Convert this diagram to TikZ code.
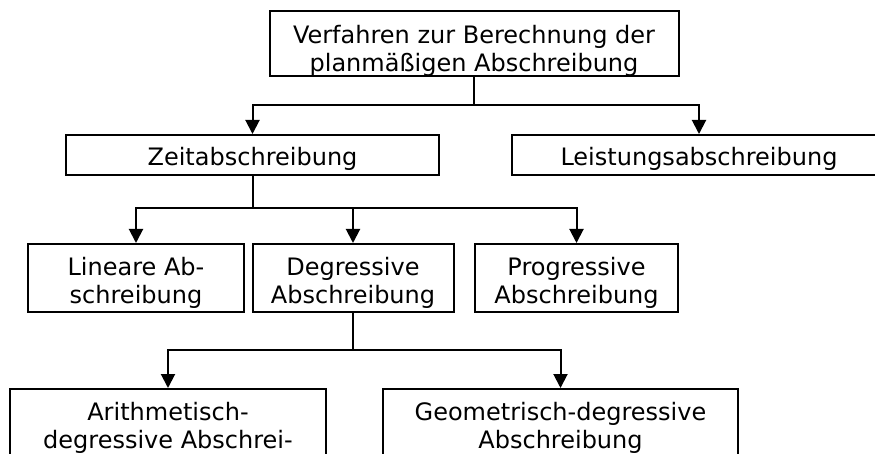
\documentclass[tikz,border=0pt]{standalone}
\usepackage{fontspec}
\setmainfont{DejaVu Sans}
\usetikzlibrary{arrows.meta}

\begin{document}
\begin{tikzpicture}[x=1pt,y=-1pt,
       box/.style={draw,line width=2pt,anchor=north,align=center,inner sep=0pt,
              font=\fontsize{24}{28}\selectfont,text height=31pt},
       twoline/.style={box,text height=59pt},
       arr/.style={line width=2pt,-{Triangle[width=14pt,length=14pt]}}]
       \useasboundingbox (0,0) rectangle (875,454);
       \clip (0,0) rectangle (875,454);

       \node(V)[twoline,minimum width=409pt,text height=61pt,text depth=4pt] at (474,10) {Verfahren zur Berechnung der\\planmäßigen Abschreibung};

       \node(Z)[box,minimum width=373pt,text depth=9pt] at (252.5,134) {Zeitabschreibung};
       \node(L)[box,minimum width=374pt,text depth=9pt] at (699,134) {Leistungsabschreibung};

       \coordinate(B1) at (0,105);
       \draw[arr] (V.south) -- (V.south |- B1) -| (Z.north);
       \draw[arr] (V.south) -- (V.south |- B1) -| (L.north);

       \node(LA)[twoline,minimum width=216pt,text depth=9pt] at (136,243) {Lineare Ab-\\schreibung};
       \node(DA)[twoline,minimum width=201pt,text depth=9pt] at (353,243) {Degressive\\Abschreibung};
       \node(PA)[twoline,minimum width=203pt,text depth=9pt] at (576.5,243) {Progressive\\Abschreibung};

       \coordinate(B2) at (0,208);
       \draw[arr] (Z.south) -- (Z.south |- B2) -| (LA.north);
       \draw[arr] (Z.south) -- (Z.south |- B2) -| (DA.north);
       \draw[arr] (Z.south) -- (Z.south |- B2) -| (PA.north);

       \node(AD)[twoline,minimum width=316pt,text depth=41pt] at (168,388) {Arithmetisch-\\degressive Abschrei-};
       \node(GD)[twoline,minimum width=355pt,text depth=41pt] at (560.5,388) {Geometrisch-degressive\\Abschreibung};

       \coordinate(B3) at (0,350);
       \draw[arr] (DA.south) -- (DA.south |- B3) -| (AD.north);
       \draw[arr] (DA.south) -- (DA.south |- B3) -| (GD.north);
\end{tikzpicture}
\end{document}
